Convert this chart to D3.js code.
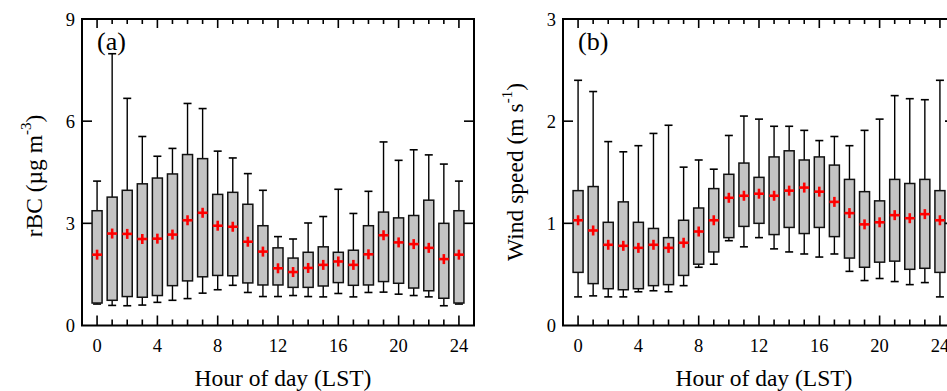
<!DOCTYPE html>
<html>
<head>
<meta charset="utf-8">
<script src="https://cdn.jsdelivr.net/npm/d3@7"></script>
<style>
  body { margin: 0; background: #fff; }
  svg { display: block; font-family: "Liberation Serif", "Times New Roman", serif; }
</style>
</head>
<body>
<div id="chart"></div>
<script>
const hours = d3.range(0, 25);

// panel (a): rBC, µg m-3
const rbcLow  = [0.63, 0.59, 0.58, 0.60, 0.68, 0.74, 0.79, 0.95, 1.05, 1.18, 0.97, 0.85, 0.85, 0.88, 0.85, 0.84, 0.94, 0.84, 0.97, 0.98, 0.92, 0.88, 0.84, 0.58, 0.63];
const rbcQ1   = [0.66, 0.74, 0.85, 0.83, 0.88, 1.17, 1.31, 1.43, 1.47, 1.46, 1.25, 1.19, 1.19, 1.12, 1.12, 1.16, 1.26, 1.18, 1.19, 1.29, 1.24, 1.10, 1.02, 0.80, 0.66];
const rbcQ3   = [3.37, 3.77, 3.97, 4.16, 4.33, 4.45, 5.02, 4.90, 3.85, 3.91, 3.56, 2.93, 2.28, 1.98, 2.15, 2.31, 2.15, 2.21, 2.93, 3.33, 3.16, 3.23, 3.68, 3.00, 3.37];
const rbcHigh = [4.24, 7.98, 6.67, 5.55, 4.97, 5.20, 6.52, 6.37, 5.12, 4.92, 4.46, 3.97, 2.61, 2.54, 3.01, 3.20, 4.00, 3.29, 3.94, 5.39, 4.85, 5.16, 5.01, 4.74, 4.24];
const rbcMean = [2.08, 2.70, 2.69, 2.54, 2.55, 2.67, 3.09, 3.31, 2.93, 2.90, 2.46, 2.17, 1.68, 1.57, 1.69, 1.78, 1.88, 1.78, 2.09, 2.65, 2.44, 2.39, 2.28, 1.95, 2.08];

// panel (b): wind speed, m s-1
const windLow  = [0.28, 0.29, 0.28, 0.28, 0.33, 0.34, 0.33, 0.39, 0.57, 0.60, 0.83, 0.77, 0.86, 0.75, 0.72, 0.70, 0.67, 0.70, 0.53, 0.44, 0.46, 0.43, 0.40, 0.42, 0.28];
const windQ1   = [0.52, 0.41, 0.36, 0.35, 0.36, 0.39, 0.40, 0.49, 0.60, 0.72, 0.86, 0.97, 1.00, 0.89, 0.96, 0.90, 0.96, 0.87, 0.66, 0.57, 0.62, 0.63, 0.55, 0.56, 0.52];
const windQ3   = [1.32, 1.36, 1.01, 1.21, 1.01, 0.95, 0.86, 1.03, 1.15, 1.34, 1.48, 1.59, 1.45, 1.65, 1.71, 1.62, 1.65, 1.57, 1.43, 1.31, 1.22, 1.43, 1.39, 1.43, 1.32];
const windHigh = [2.40, 2.29, 1.80, 1.70, 1.76, 1.88, 1.96, 1.55, 1.62, 1.53, 1.86, 2.05, 2.02, 1.95, 1.95, 1.91, 1.81, 1.85, 1.76, 1.91, 2.02, 2.25, 2.22, 2.21, 2.40];
const windMean = [1.03, 0.93, 0.79, 0.78, 0.76, 0.79, 0.76, 0.81, 0.92, 1.03, 1.25, 1.27, 1.29, 1.27, 1.32, 1.35, 1.31, 1.21, 1.10, 0.99, 1.01, 1.08, 1.05, 1.09, 1.03];

const xTickLabels = [0, 4, 8, 12, 16, 20, 24];

const W = 947, H = 391;
const plotTop = 19, plotBottom = 325.5;

const svg = d3.select('#chart').append('svg')
  .attr('width', W)
  .attr('height', H);

function drawPanel(opts) {
  const { left, right, yMax, yTicks, low, q1, q3, high, mean, tag, ylabelX, ylabelY, ylabel } = opts;

  const x = d3.scaleLinear().domain([-1, 25]).range([left, right]);
  const y = d3.scaleLinear().domain([0, yMax]).range([plotBottom, plotTop]);

  const g = svg.append('g');

  // hourly ticks, top and bottom, pointing inward
  hours.forEach(h => {
    const len = h % 4 === 0 ? 10 : 6;
    g.append('line')
      .attr('x1', x(h)).attr('x2', x(h))
      .attr('y1', plotBottom).attr('y2', plotBottom - len)
      .attr('stroke', '#000').attr('stroke-width', 1.6);
    g.append('line')
      .attr('x1', x(h)).attr('x2', x(h))
      .attr('y1', plotTop).attr('y2', plotTop + len - 1)
      .attr('stroke', '#000').attr('stroke-width', 1.6);
  });

  // y ticks on both sides, inward
  yTicks.forEach(v => {
    g.append('line')
      .attr('x1', left).attr('x2', left + 10)
      .attr('y1', y(v)).attr('y2', y(v))
      .attr('stroke', '#000').attr('stroke-width', 1.6);
    g.append('line')
      .attr('x1', right).attr('x2', right - 10)
      .attr('y1', y(v)).attr('y2', y(v))
      .attr('stroke', '#000').attr('stroke-width', 1.6);
  });

  // tick labels
  g.selectAll('text.xt')
    .data(xTickLabels)
    .join('text')
    .attr('class', 'xt')
    .attr('x', d => x(d))
    .attr('y', 352)
    .attr('text-anchor', 'middle')
    .attr('font-size', 18.5)
    .text(d => d);

  g.selectAll('text.yt')
    .data(d3.range(0, yMax + 1, yMax / 3))
    .join('text')
    .attr('class', 'yt')
    .attr('x', left - 7)
    .attr('y', d => y(d) + 6.5)
    .attr('text-anchor', 'end')
    .attr('font-size', 18.5)
    .text(d => d);

  // whiskers and boxes
  const bw = 10, cw = 8;
  const boxes = g.append('g');
  hours.forEach((h, i) => {
    const cx = x(h);
    boxes.append('line')
      .attr('x1', cx).attr('x2', cx)
      .attr('y1', y(high[i])).attr('y2', y(low[i]))
      .attr('stroke', '#000').attr('stroke-width', 1.4);
    [high[i], low[i]].forEach(v => {
      boxes.append('line')
        .attr('x1', cx - cw / 2).attr('x2', cx + cw / 2)
        .attr('y1', y(v)).attr('y2', y(v))
        .attr('stroke', '#000').attr('stroke-width', 1.6);
    });
    boxes.append('rect')
      .attr('x', cx - bw / 2)
      .attr('y', y(q3[i]))
      .attr('width', bw)
      .attr('height', y(q1[i]) - y(q3[i]))
      .attr('fill', '#c4c4c4')
      .attr('stroke', '#111')
      .attr('stroke-width', 1.5);
  });

  // means as red crosses
  const m = g.append('g').attr('stroke', '#ff0000').attr('stroke-width', 2.6);
  hours.forEach((h, i) => {
    const cx = x(h), cy = y(mean[i]);
    m.append('line').attr('x1', cx - 5).attr('x2', cx + 5).attr('y1', cy).attr('y2', cy);
    m.append('line').attr('x1', cx).attr('x2', cx).attr('y1', cy - 5).attr('y2', cy + 5);
  });

  // frame
  g.append('rect')
    .attr('x', left).attr('y', plotTop)
    .attr('width', right - left).attr('height', plotBottom - plotTop)
    .attr('fill', 'none')
    .attr('stroke', '#000')
    .attr('stroke-width', 2);

  g.append('text')
    .attr('x', x(0))
    .attr('y', 50)
    .attr('font-size', 26)
    .text(tag);

  g.append('text')
    .attr('x', (left + right) / 2 + 5)
    .attr('y', 386)
    .attr('text-anchor', 'middle')
    .attr('font-size', 23.5)
    .text('Hour of day (LST)');

  const yl = g.append('text')
    .attr('transform', `translate(${ylabelX},${ylabelY}) rotate(-90)`)
    .attr('text-anchor', 'middle')
    .attr('font-size', 23.5);
  yl.append('tspan').text(ylabel[0]);
  yl.append('tspan').attr('font-size', 15).attr('dy', -11).text(ylabel[1]);
  yl.append('tspan').attr('dy', 11).text(ylabel[2]);
}

drawPanel({
  left: 82, right: 474, yMax: 9, yTicks: [3, 6],
  low: rbcLow, q1: rbcQ1, q3: rbcQ3, high: rbcHigh, mean: rbcMean,
  tag: '(a)', ylabelX: 42, ylabelY: 176, ylabel: ['rBC (\u00b5g m', '-3', ')']
});

drawPanel({
  left: 563, right: 955, yMax: 3, yTicks: [1, 2],
  low: windLow, q1: windQ1, q3: windQ3, high: windHigh, mean: windMean,
  tag: '(b)', ylabelX: 523, ylabelY: 172, ylabel: ['Wind speed (m s', '-1', ')']
});
</script>
</body>
</html>
